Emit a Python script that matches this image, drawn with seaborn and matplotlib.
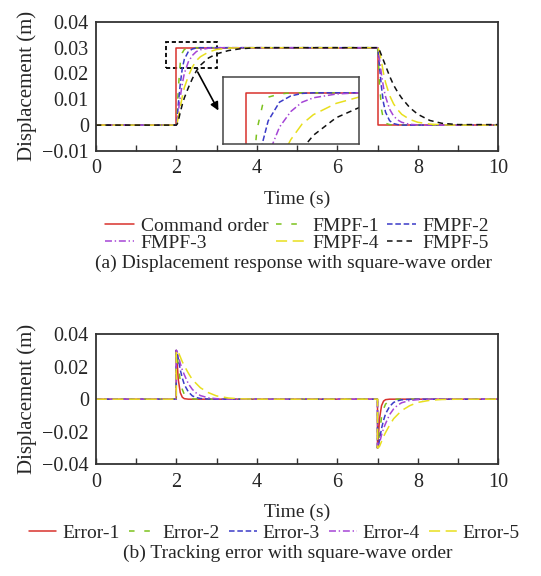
import matplotlib
matplotlib.use("Agg")
import matplotlib.pyplot as plt
from matplotlib.patches import Rectangle
import seaborn as sns
import numpy as np
import pandas as pd

# step edges of the square-wave command (s)
t_on = 2.0
t_off = 7.0
t_end = 10.0
amp = 0.03

# time after each edge where values were read (s)
dt = [0, 0.02, 0.05, 0.1, 0.15, 0.2, 0.3, 0.4, 0.5, 0.6, 0.8, 1.0, 1.3, 1.6, 2.0]

# (a) filtered responses, rising edge
fmpf_rise = {
    "FMPF-1": [0, 0.004, 0.014, 0.024, 0.028, 0.0293, 0.0298, 0.03, 0.03, 0.03, 0.03, 0.03, 0.03, 0.03, 0.03],
    "FMPF-2": [0, 0.002, 0.008, 0.016, 0.022, 0.0255, 0.0285, 0.0295, 0.0299, 0.03, 0.03, 0.03, 0.03, 0.03, 0.03],
    "FMPF-3": [0, 0.001, 0.005, 0.011, 0.016, 0.02, 0.0245, 0.027, 0.0285, 0.0292, 0.0298, 0.03, 0.03, 0.03, 0.03],
    "FMPF-4": [0, 0.0005, 0.003, 0.007, 0.011, 0.0145, 0.019, 0.0225, 0.025, 0.0265, 0.0283, 0.0293, 0.0298, 0.03, 0.03],
    "FMPF-5": [0, 0.0003, 0.0015, 0.005, 0.008, 0.0105, 0.0145, 0.018, 0.021, 0.0232, 0.026, 0.0276, 0.0289, 0.0296, 0.03],
}
# (a) filtered responses, falling edge
fmpf_fall = {
    "FMPF-1": [0.03, 0.026, 0.016, 0.006, 0.002, 0.0007, 0.0002, 0, 0, 0, 0, 0, 0, 0, 0],
    "FMPF-2": [0.03, 0.028, 0.0225, 0.0145, 0.0085, 0.005, 0.0017, 0.0006, 0.0002, 0, 0, 0, 0, 0, 0],
    "FMPF-3": [0.03, 0.029, 0.0255, 0.0195, 0.0145, 0.011, 0.0062, 0.0035, 0.002, 0.0011, 0.0003, 0.0001, 0, 0, 0],
    "FMPF-4": [0.03, 0.0297, 0.0285, 0.0245, 0.02, 0.0165, 0.0115, 0.0082, 0.006, 0.0042, 0.0022, 0.0011, 0.0004, 0.0001, 0],
    "FMPF-5": [0.03, 0.0298, 0.029, 0.027, 0.025, 0.023, 0.019, 0.0155, 0.0128, 0.0105, 0.0068, 0.0042, 0.0018, 0.0007, 0.0002],
}

# (b) tracking errors
err_rise = {
    "Error-1": [0.03, 0.024, 0.012, 0.004, 0.0012, 0.0003, 0, 0, 0, 0, 0, 0, 0, 0, 0],
    "Error-2": [0.03, 0.028, 0.021, 0.011, 0.006, 0.003, 0.001, 0.0003, 0, 0, 0, 0, 0, 0, 0],
    "Error-3": [0.03, 0.029, 0.025, 0.018, 0.013, 0.009, 0.0045, 0.002, 0.001, 0.0004, 0.0001, 0, 0, 0, 0],
    "Error-4": [0.03, 0.0295, 0.027, 0.022, 0.018, 0.015, 0.0095, 0.006, 0.0037, 0.0022, 0.0008, 0.0003, 0, 0, 0],
    "Error-5": [0.03, 0.0298, 0.029, 0.026, 0.023, 0.0205, 0.016, 0.012, 0.0095, 0.007, 0.004, 0.002, 0.0007, 0.0002, 0],
}
err_fall = {
    "Error-1": [-0.03, -0.024, -0.012, -0.004, -0.0012, -0.0003, 0, 0, 0, 0, 0, 0, 0, 0, 0],
    "Error-2": [-0.03, -0.028, -0.021, -0.011, -0.006, -0.003, -0.001, -0.0003, 0, 0, 0, 0, 0, 0, 0],
    "Error-3": [-0.03, -0.029, -0.025, -0.018, -0.013, -0.009, -0.0045, -0.002, -0.001, -0.0004, -0.0001, 0, 0, 0, 0],
    "Error-4": [-0.03, -0.0295, -0.027, -0.022, -0.018, -0.015, -0.0095, -0.006, -0.0037, -0.0022, -0.0008, -0.0003, 0, 0, 0],
    "Error-5": [-0.03, -0.0298, -0.029, -0.026, -0.023, -0.0205, -0.016, -0.012, -0.0095, -0.007, -0.004, -0.002, -0.0007, -0.0002, 0],
}

colors = ["#d8312c", "#7cc21d", "#3b3bc8", "#a545d6", "#e8df1e", "#111111"]
styles = ["-", (0, (4, 7)), (0, (4, 2)), (0, (5, 2, 1, 2)), (0, (8, 4)), (0, (4, 3))]

sns.set_theme(style="ticks")
plt.rcParams["font.family"] = ["Liberation Serif", "DejaVu Serif"]
plt.rcParams["lines.scale_dashes"] = False

fig = plt.figure(figsize=(5.41, 5.76), dpi=100)
ax1 = fig.add_axes([0.177, 0.738, 0.744, 0.224])
ax2 = fig.add_axes([0.177, 0.194, 0.744, 0.226])
axin = fig.add_axes([0.412, 0.75, 0.251, 0.116])


def build_series(rise, fall):
    # flat before the first edge, read values after each edge, flat between and after
    t = [0.0, t_on] + [t_on + d for d in dt] + [t_off] + [t_off + d for d in dt] + [t_end]
    y = [0, 0] + list(rise) + [rise[-1]] + list(fall) + [fall[-1]]
    return pd.DataFrame({"t": t, "y": y})


cmd = pd.DataFrame({"t": [0, t_on, t_on, t_off, t_off, t_end],
                    "y": [0, 0, amp, amp, 0, 0]})

for ax in (ax1, axin):
    sns.lineplot(data=cmd, x="t", y="y", ax=ax, color=colors[0], linestyle=styles[0],
                 lw=1.1, estimator=None, sort=False, label="Command order")
    for i, name in enumerate(fmpf_rise):
        df = build_series(fmpf_rise[name], fmpf_fall[name])
        sns.lineplot(data=df, x="t", y="y", ax=ax, color=colors[i + 1], linestyle=styles[i + 1],
                     lw=1.1, estimator=None, sort=False, label=name)

for i, name in enumerate(err_rise):
    df = build_series(err_rise[name], err_fall[name])
    sns.lineplot(data=df, x="t", y="y", ax=ax2, color=colors[i], linestyle=styles[i],
                 lw=1.1, estimator=None, sort=False, label=name)

for ax, yl, yt in ((ax1, (-0.01, 0.04), [-0.01, 0, 0.01, 0.02, 0.03, 0.04]),
                   (ax2, (-0.04, 0.04), [-0.04, -0.02, 0, 0.02, 0.04])):
    ax.set_xlim(0, 10)
    ax.set_ylim(*yl)
    ax.set_xticks([0, 2, 4, 6, 8, 10])
    ax.set_xticks(np.arange(1, 10, 2), minor=True)
    ax.set_yticks(yt)
    ax.set_yticklabels(["0" if v == 0 else f"{v:g}".replace("-", "\u2212") for v in yt])
    ax.tick_params(axis="x", which="both", direction="in", labelsize=14.5, length=4,
                   width=1, color="#333333", pad=6, top=False)
    ax.tick_params(axis="y", labelsize=14.5, length=0, pad=5)
    ax.set_xlabel("Time (s)", fontsize=14, labelpad=9)
    ax.set_ylabel("Displacement (m)", fontsize=15, labelpad=4)
    for s in ax.spines.values():
        s.set_visible(True)
        s.set_linewidth(1.3)
        s.set_color("#333333")
    ax.get_legend().remove()

# zoom window and inset
axin.set_xlim(1.8, 3.0)
axin.set_ylim(0.0218, 0.0325)
axin.set_xticks([])
axin.set_yticks([])
axin.set_xlabel("")
axin.set_ylabel("")
axin.get_legend().remove()
for s in axin.spines.values():
    s.set_linewidth(1.1)
    s.set_color("#444444")

ax1.add_patch(Rectangle((1.75, 0.022), 1.25, 0.0102, fill=False, ec="black",
                        lw=1.3, ls=(0, (3, 2))))
ax1.annotate("", xy=(3.08, 0.0047), xytext=(2.5, 0.0215),
             arrowprops=dict(arrowstyle="-|>", color="black", lw=1.2, mutation_scale=12))

# legends
h, l = ax1.get_legend_handles_labels()
order = [0, 3, 1, 4, 2, 5]
fig.legend([h[i] for i in order], [l[i] for i in order], loc="center",
           bbox_to_anchor=(0.549, 0.593), ncol=3, frameon=False, fontsize=14,
           handlelength=1.5, handletextpad=0.35, columnspacing=0.4, labelspacing=-0.05)
h2, l2 = ax2.get_legend_handles_labels()
fig.legend(h2, l2, loc="center", bbox_to_anchor=(0.507, 0.075), ncol=5, frameon=False,
           fontsize=14, handlelength=1.4, handletextpad=0.3, columnspacing=0.5)

fig.text(0.543, 0.542, "(a) Displacement response with square-wave order",
         ha="center", va="center", fontsize=14)
fig.text(0.532, 0.04, "(b) Tracking error with square-wave order",
         ha="center", va="center", fontsize=14)

fig.savefig("out.png", dpi=100)
